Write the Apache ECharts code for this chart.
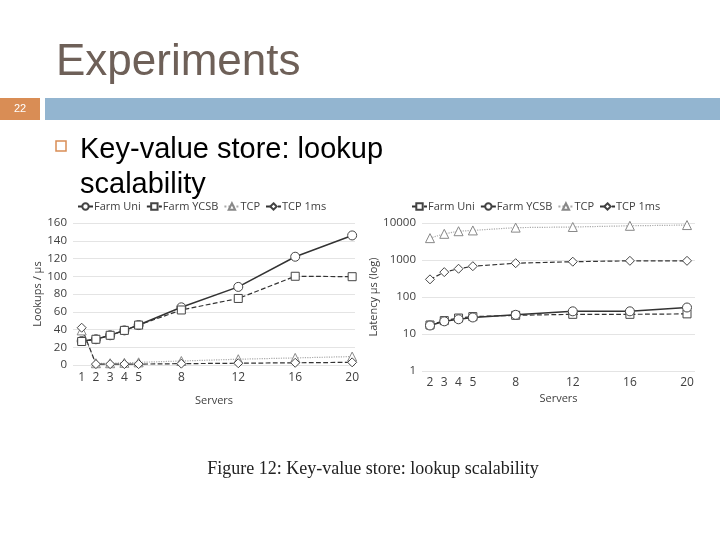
<!DOCTYPE html>
<html lang="en">
<head>
    <meta charset="utf-8">
    <title>Experiments</title>
    <script src="https://cdn.jsdelivr.net/npm/echarts@6/dist/echarts.min.js"></script>
    <style>
        html, body { margin: 0; padding: 0; background: #fff; }
        #main { width: 720px; height: 540px; }
    </style>
</head>
<body>
    <div id="main"></div>
    <script type="text/javascript">
        // left panel: throughput
        var serversLeft = [1, 2, 3, 4, 5, 8, 12, 16, 20];
        var uniLeft = [27, 29, 33.5, 39, 45, 65, 88, 122, 146];
        var ycsbLeft = [26.5, 29, 33.5, 39, 45, 62, 75, 100, 99.5];
        var tcpLeft = [39, 2, 2, 2.5, 3, 4.5, 6.5, 8, 9.5];
        var tcp1msLeft = [42, 1, 1, 1, 1, 1.5, 2, 2.5, 3];

        // right panel: latency (log)
        var serversRight = [2, 3, 4, 5, 8, 12, 16, 20];
        var uniRight = [17.5, 23, 27, 29.5, 32, 34, 34, 35];
        var ycsbRight = [17, 22, 25, 28, 33, 41, 41, 52];
        var tcpRight = [3900, 5100, 6000, 6300, 7500, 7800, 8400, 8800];
        var tcp1msRight = [300, 470, 580, 680, 820, 900, 950, 950];

        var legendNames = ['Farm Uni', 'Farm YCSB', 'TCP', 'TCP 1ms'];
        var rightTag = ' (R)';

        function pairs(xs, ys) {
            return xs.map(function (x, i) { return [x, ys[i]]; });
        }

        var font = '"Open Sans", "Noto Sans", sans-serif';
        var grey = '#404040';

        function line(name, idx, data, symbol, lineType, color, width) {
            return {
                name: name,
                type: 'line',
                xAxisIndex: idx,
                yAxisIndex: idx,
                data: data,
                symbol: symbol,
                symbolSize: symbol === 'rect' ? 8 : 9,
                showAllSymbol: true,
                lineStyle: { color: color, type: lineType, width: width },
                itemStyle: { color: '#fff', borderColor: color === '#aaa' ? '#888' : '#444', borderWidth: 1 },
                emphasis: { disabled: true },
                z: 3
            };
        }

        var legendBase = {
            top: 196,
            itemWidth: 15, itemHeight: 8, itemGap: 5,
            textStyle: { fontSize: 11, color: grey, fontFamily: font, padding: [0, 0, 0, -4] }
        };

        var myChart = echarts.init(document.getElementById('main'));
        var option = {
            animation: false,
            textStyle: { fontFamily: font },
            graphic: [
                { type: 'text', left: 56, top: 41,
                  style: { text: 'Experiments', font: '44px "Liberation Sans", Arial, sans-serif', fill: '#6e6058' } },
                { type: 'rect', shape: { x: 0, y: 98, width: 40, height: 22 }, style: { fill: '#d98d55' } },
                { type: 'text', style: { text: '22', x: 20, y: 109, align: 'center', verticalAlign: 'middle',
                  font: '11px "Liberation Sans Narrow", "Liberation Sans", sans-serif', fill: '#fff' } },
                { type: 'rect', shape: { x: 45, y: 98, width: 675, height: 22 }, style: { fill: '#93b5d0' } },
                { type: 'rect', shape: { x: 56, y: 141, width: 10, height: 10 },
                  style: { fill: '#fff', stroke: '#d98d55', lineWidth: 1.5 } },
                { type: 'text', left: 80, top: 132,
                  style: { text: 'Key-value store: lookup\nscalability', lineHeight: 35,
                  font: '29px "Liberation Sans", Arial, sans-serif', fill: '#000' } },
                { type: 'text', style: { text: 'Figure 12: Key-value store: lookup scalability', x: 373, y: 469,
                  align: 'center', verticalAlign: 'middle',
                  font: '18px "Liberation Serif", "DejaVu Serif", serif', fill: '#222' } }
            ],
            legend: [
                Object.assign({}, legendBase, { left: 72, data: legendNames }),
                Object.assign({}, legendBase, {
                    left: 406,
                    data: legendNames.map(function (n) { return n + rightTag; }),
                    formatter: function (n) { return n.replace(rightTag, ''); }
                })
            ],
            grid: [
                { left: 73, right: 365, top: 223, bottom: 175 },
                { left: 422, right: 25, top: 223, bottom: 169 }
            ],
            xAxis: [
                {
                    gridIndex: 0, type: 'value', min: 0.39, max: 20.2,
                    name: 'Servers', nameLocation: 'middle', nameGap: 30,
                    nameTextStyle: { fontSize: 11, color: grey },
                    axisLine: { show: false }, axisTick: { show: false }, splitLine: { show: false },
                    axisLabel: { customValues: serversLeft, fontSize: 12, color: grey, margin: 7 }
                },
                {
                    gridIndex: 1, type: 'value', min: 1.44, max: 20.56,
                    name: 'Servers', nameLocation: 'middle', nameGap: 22,
                    nameTextStyle: { fontSize: 11, color: grey },
                    axisLine: { show: false }, axisTick: { show: false }, splitLine: { show: false },
                    axisLabel: { customValues: serversRight, fontSize: 12, color: grey, margin: 6 }
                }
            ],
            yAxis: [
                {
                    gridIndex: 0, type: 'value', min: 0, max: 160, interval: 20,
                    name: 'Lookups / µs', nameLocation: 'middle', nameGap: 27,
                    nameTextStyle: { fontSize: 11, color: grey },
                    axisLine: { show: false }, axisTick: { show: false },
                    splitLine: { lineStyle: { color: '#e4e4e4' } },
                    axisLabel: { fontSize: 11.5, color: grey, margin: 6 }
                },
                {
                    gridIndex: 1, type: 'log', logBase: 10, min: 1, max: 10000,
                    name: 'Latency µs (log)', nameLocation: 'middle', nameGap: 40,
                    nameTextStyle: { fontSize: 11, color: grey },
                    axisLine: { show: false }, axisTick: { show: false },
                    splitLine: { lineStyle: { color: '#e4e4e4' } },
                    axisLabel: { fontSize: 11.5, color: grey, margin: 6,
                        formatter: function (v) { return String(Math.round(v)); } }
                }
            ],
            series: [
                line('Farm Uni', 0, pairs(serversLeft, uniLeft), 'circle', 'solid', '#333', 1.5),
                line('Farm YCSB', 0, pairs(serversLeft, ycsbLeft), 'rect', 'dashed', '#333', 1.2),
                line('TCP', 0, pairs(serversLeft, tcpLeft), 'triangle', 'dotted', '#aaa', 1.2),
                line('TCP 1ms', 0, pairs(serversLeft, tcp1msLeft), 'diamond', 'dashed', '#333', 1.2),
                line('Farm Uni' + rightTag, 1, pairs(serversRight, uniRight), 'rect', 'dashed', '#333', 1.2),
                line('Farm YCSB' + rightTag, 1, pairs(serversRight, ycsbRight), 'circle', 'solid', '#333', 1.5),
                line('TCP' + rightTag, 1, pairs(serversRight, tcpRight), 'triangle', 'dotted', '#aaa', 1.2),
                line('TCP 1ms' + rightTag, 1, pairs(serversRight, tcp1msRight), 'diamond', 'dashed', '#333', 1.2)
            ]
        };
        myChart.setOption(option);
    </script>
</body>
</html>
